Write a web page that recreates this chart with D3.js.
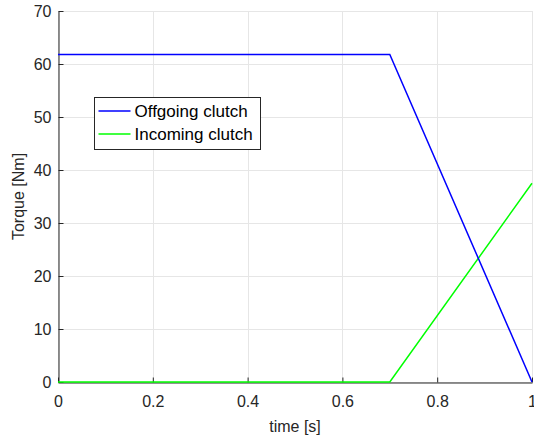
<!DOCTYPE html>
<html>
<head>
<meta charset="utf-8">
<script src="https://cdn.jsdelivr.net/npm/d3@7"></script>
<style>
  body { margin: 0; background: #fff; }
  svg { display: block; font-family: Arial, "Liberation Sans", sans-serif; }
</style>
</head>
<body>
<svg id="chart" width="534" height="438"></svg>
<script>
// Torque transfer during a clutch-to-clutch shift
const timeOffgoing = [0, 0.7, 1.0];
const torqueOffgoing = [61.8, 61.8, 0];
const timeIncoming = [0, 0.7, 1.0];
const torqueIncoming = [0, 0, 37.5];
const xTicks = [0, 0.2, 0.4, 0.6, 0.8, 1];
const yTicks = [0, 10, 20, 30, 40, 50, 60, 70];
const seriesNames = ["Offgoing clutch", "Incoming clutch"];
const seriesColors = ["#0000ff", "#00ff00"];

const svg = d3.select("#chart");
const margin = { left: 58, right: 2, top: 11, bottom: 56 };
const W = 534, H = 438;
const x = d3.scaleLinear().domain([0, 1]).range([margin.left, W - margin.right]);
const y = d3.scaleLinear().domain([0, 70]).range([H - margin.bottom, margin.top]);

// grid
const grid = svg.append("g").attr("stroke", "#e6e6e6").attr("stroke-width", 1);
xTicks.forEach(t => grid.append("line")
  .attr("x1", Math.round(x(t)) + 0.5).attr("x2", Math.round(x(t)) + 0.5)
  .attr("y1", y(70)).attr("y2", y(0)));
yTicks.forEach(t => grid.append("line")
  .attr("x1", x(0)).attr("x2", x(1))
  .attr("y1", Math.round(y(t)) + 0.5).attr("y2", Math.round(y(t)) + 0.5));

// axes
const xAxis = svg.append("g")
  .attr("transform", `translate(0,${Math.round(y(0)) + 0.5})`)
  .call(d3.axisBottom(x).tickValues(xTicks).tickFormat(d => d3.format("~g")(d)).tickSizeInner(-5).tickSizeOuter(0).tickPadding(13));
const yAxis = svg.append("g")
  .attr("transform", `translate(${Math.round(x(0)) + 0.5},0)`)
  .call(d3.axisLeft(y).tickValues(yTicks).tickSizeInner(-5).tickSizeOuter(0).tickPadding(7));
[xAxis, yAxis].forEach(g => {
  g.select(".domain").attr("stroke", "#262626");
  g.selectAll(".tick line").attr("stroke", "#262626");
  g.selectAll("text").attr("fill", "#262626").attr("font-size", 16)
    .attr("font-family", "Arial, 'Liberation Sans', sans-serif");
});
xAxis.selectAll(".tick text").attr("dy", "0.71em");

// lines
const line = d3.line().x(d => x(d[0])).y(d => y(d[1]));
const dataOff = timeOffgoing.map((t, i) => [t, torqueOffgoing[i]]);
const dataIn = timeIncoming.map((t, i) => [t, torqueIncoming[i]]);
svg.append("path").datum(dataIn).attr("d", line)
  .attr("fill", "none").attr("stroke", seriesColors[1]).attr("stroke-width", 1.5);
svg.append("path").datum(dataOff).attr("d", line)
  .attr("fill", "none").attr("stroke", seriesColors[0]).attr("stroke-width", 1.5);

// axis labels
svg.append("text").attr("x", x(0.5)).attr("y", 432).attr("text-anchor", "middle")
  .attr("font-size", 16).attr("fill", "#262626").text("time [s]");
svg.append("text").attr("transform", `translate(24,${y(35)}) rotate(-90)`)
  .attr("text-anchor", "middle").attr("font-size", 16).attr("fill", "#262626").text("Torque [Nm]");

// legend
const lg = svg.append("g").attr("transform", "translate(94.5,97.5)");
lg.append("rect").attr("width", 166).attr("height", 52)
  .attr("fill", "#fff").attr("stroke", "#262626").attr("stroke-width", 1);
seriesNames.forEach((name, i) => {
  const cy = 13.5 + i * 23;
  lg.append("line").attr("x1", 4).attr("x2", 36).attr("y1", cy).attr("y2", cy)
    .attr("stroke", seriesColors[i]).attr("stroke-width", 1.5);
  lg.append("text").attr("x", 40).attr("y", cy).attr("dy", "0.35em")
    .attr("font-size", 17).attr("fill", "#000").text(name);
});
</script>
</body>
</html>
